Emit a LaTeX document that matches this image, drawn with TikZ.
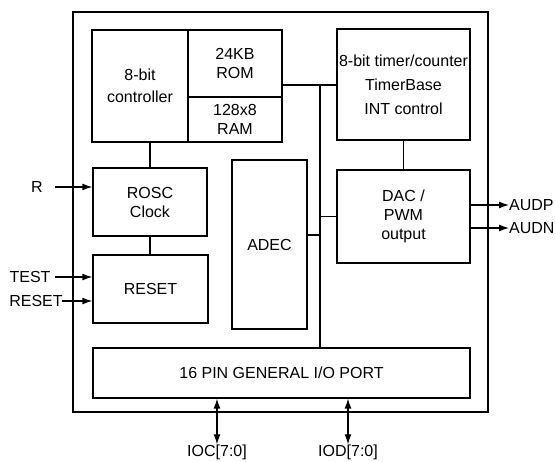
\documentclass[tikz,border=0pt]{standalone}
\usepackage{fontspec}
\setmainfont{Liberation Sans}
\usetikzlibrary{arrows.meta}
\begin{document}
\begin{tikzpicture}[x=1pt,y=-1pt,
  blk/.style={draw=black,line width=1.2pt,inner sep=0pt,align=center,
    font=\fontsize{16}{19}\selectfont},
  lbl/.style={inner sep=0pt,font=\fontsize{16}{19}\selectfont},
  wire/.style={line width=1.2pt},
  arr/.style={line width=1.2pt,-{Latex[length=10pt,width=7pt]}},
  barr/.style={line width=1.2pt,{Latex[length=10pt,width=7pt]}-{Latex[length=10pt,width=7pt]}}]
\useasboundingbox (0,0) rectangle (555,462);
\fill[white] (0,0) rectangle (555,462);
% outer chip
\node[blk,minimum width=415pt,minimum height=400pt] (chip) at (280.5,212) {};
% blocks
\node[blk,minimum width=96pt,minimum height=112pt] (ctrl) at (140,86) {8-bit\\[3pt]controller};
\node[blk,minimum width=94pt,minimum height=67pt] (rom) at (235,63.5) {24KB\\ROM};
\node[blk,minimum width=94pt,minimum height=45pt] (ram) at (235,119.5) {128x8\\RAM};
\node[blk,minimum width=133pt,minimum height=111pt,font=\fontsize{16}{24}\selectfont] (timer) at (403.5,84.5) {8-bit timer/counter\\TimerBase\\INT control};
\node[blk,minimum width=133pt,minimum height=93pt] (dac) at (403.5,216.5) {DAC /\\PWM\\output};
\node[blk,minimum width=75pt,minimum height=169pt] (adec) at (269.5,244.5) {ADEC};
\node[blk,minimum width=114pt,minimum height=68pt] (rosc) at (150,202) {ROSC\\Clock};
\node[blk,minimum width=115pt,minimum height=68pt] (rst) at (150.5,289) {RESET};
\node[blk,minimum width=377pt,minimum height=50pt] (io) at (281.5,373) {16 PIN GENERAL I/O PORT};
% internal bus
\coordinate (bus) at (320,85);
\coordinate (adecj) at (320,235);
\draw[wire] (rom.east |- bus) -- (timer.west |- bus);
\draw[wire] (bus) -- (bus |- io.north);
\draw[wire] (dac.west) -- (dac.west -| bus);
\draw[wire] (adec.east |- adecj) -- (adecj);
\draw[wire] (rosc.north) -- (rosc.north |- ctrl.south);
\draw[wire] (rosc.south) -- (rosc.south |- rst.north);
\draw[wire] (timer.south) -- (dac.north);
% inputs
\node[lbl] (rin) at (37,187) {R};
\node[lbl] (testin) at (30,277) {TEST};
\node[lbl] (rstin) at (36,301) {RESET};
\coordinate (rs) at (55,187);
\coordinate (ts) at (55,277);
\coordinate (rss) at (62,301);
\draw[arr] (rs) -- (rs -| rosc.west);
\draw[arr] (ts) -- (ts -| rst.west);
\draw[arr] (rss) -- (rss -| rst.west);
% outputs
\node[lbl,anchor=west] (audp) at (509,205) {AUDP};
\node[lbl,anchor=west] (audn) at (509,228) {AUDN};
\draw[arr] (dac.east |- audp) -- (audp.west);
\draw[arr] (dac.east |- audn) -- (audn.west);
% IO ports
\node[lbl] (ioc) at (217,452) {IOC[7:0]};
\node[lbl] (iod) at (348,452) {IOD[7:0]};
\draw[barr] (ioc.north |- io.south) -- (ioc.north);
\draw[barr] (iod.north |- io.south) -- (iod.north);
\end{tikzpicture}
\end{document}
